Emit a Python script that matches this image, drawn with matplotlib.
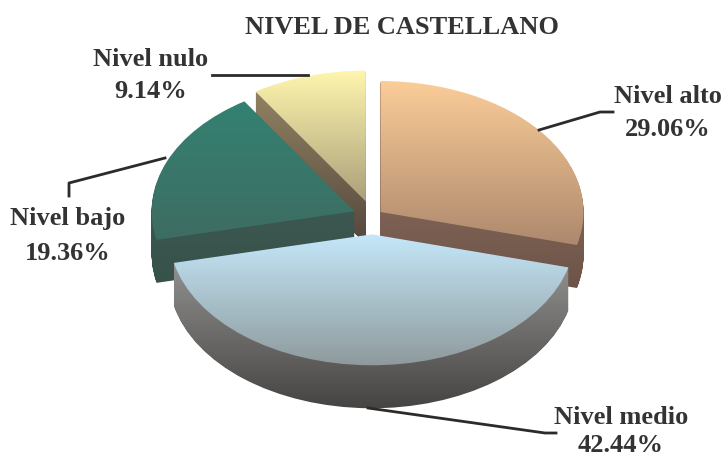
import numpy as np
import matplotlib
matplotlib.use('Agg')
import matplotlib.pyplot as plt
from matplotlib.colors import LinearSegmentedColormap
from matplotlib.path import Path

# Datos del grafico
categorias = ['Nivel alto', 'Nivel medio', 'Nivel bajo', 'Nivel nulo']
porcentajes = [29.06, 42.44, 19.36, 9.14]
separacion = [0.05, 0.14, 0.095, 0.115]

# Colores: cara superior y lateral (arriba, abajo)
cara = [('#fbcd98', '#ad886d'), ('#c5e8fa', '#8e9a9c'), ('#348272', '#3e6c62'), ('#fff7ae', '#ab9f7a')]
lado = [('#98796a', '#6d5348'), ('#a0a0a0', '#464442'), ('#42605a', '#37524a'), ('#998a68', '#54473c')]

ANCHO, ALTO = 727, 459
ESCALA = 0.645
RADIO = 203
PROFUNDIDAD = 43


def Y(py):
    # pasa de pixel a la escala vertical aplastada del pastel
    return (ALTO - py) / ESCALA


plt.rcParams['font.family'] = ['Liberation Serif', 'DejaVu Serif']
fig = plt.figure(figsize=(ANCHO / 100, ALTO / 100), dpi=100)
ax = fig.add_axes([0, 0, 1, 1])


def capa(d):
    # un pastel completo, desplazado d pixeles hacia abajo; devuelve los contornos
    wedges, _ = ax.pie(porcentajes, explode=[s * RADIO for s in separacion], startangle=90, counterclock=False,
                       radius=RADIO, center=(372.5, Y(216 + d)))
    paths = [w.get_path() for w in wedges]
    for w in wedges:
        w.remove()
    return paths


def degradado(path, colores, z):
    cmap = LinearSegmentedColormap.from_list('g', colores)
    ext = path.get_extents()
    im = ax.imshow(np.linspace(0, 1, 256).reshape(-1, 1), cmap=cmap, aspect='auto', origin='upper',
                   extent=(ext.x0 - 1, ext.x1 + 1, ext.y0 - 1, ext.y1 + 1), interpolation='bilinear', zorder=z)
    im.set_clip_path(path, transform=ax.transData)


capas = [capa(d) for d in range(1, PROFUNDIDAD + 1)]
arriba = capa(0)

# orden de dibujo: nulo, bajo, alto, medio
for z, i in enumerate([3, 2, 0, 1]):
    lateral = Path.make_compound_path(*[c[i] for c in capas])
    degradado(lateral, lado[i], 2 * z + 1)
    degradado(arriba[i], cara[i], 2 * z + 2)

ax.set_aspect('auto')
ax.set_xlim(0, ANCHO)
ax.set_ylim(0, Y(0))
ax.set_axis_off()

# Lineas guia
guias = [[(539, 130), (600, 112), (613, 112)],
         [(368, 408), (545, 433), (556, 433)],
         [(165, 158), (69, 183), (69, 196)],
         [(212, 75), (308, 75)]]
for g in guias:
    ax.plot([p[0] for p in g], [Y(p[1]) for p in g], color='#2b2b2b', lw=2, zorder=20,
            solid_joinstyle='round')

# Textos
tinta = '#333333'
pos_nombre = [(668, 96), (621, 418), (68, 219), (151, 59)]
pos_valor = [(668, 130), (621, 446), (68, 253), (151, 91)]
for nombre, valor, pn, pv in zip(categorias, porcentajes, pos_nombre, pos_valor):
    ax.text(pn[0], Y(pn[1]), nombre, ha='center', va='center', fontsize=19, fontweight='bold', color=tinta, zorder=21)
    ax.text(pv[0], Y(pv[1]), f'{valor:.2f}%', ha='center', va='center', fontsize=19, fontweight='bold', color=tinta, zorder=21)
ax.text(402, Y(28), 'NIVEL DE CASTELLANO', ha='center', va='center', fontsize=19, fontweight='bold', color=tinta, zorder=21)

plt.savefig('out.png', dpi=100)
